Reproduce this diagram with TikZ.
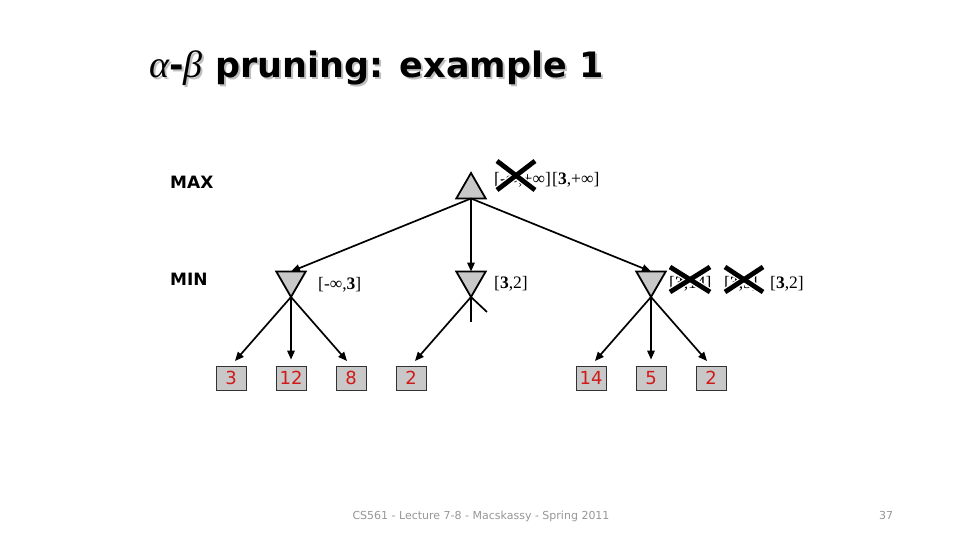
\documentclass[tikz,border=0pt]{standalone}
\usepackage{fontspec}
\setmainfont{DejaVu Sans}
\newfontfamily\serifl{Liberation Serif}
\usetikzlibrary{shapes.geometric,arrows.meta}
\definecolor{nodegray}{RGB}{200,200,200}
\definecolor{leafred}{RGB}{210,25,25}
\definecolor{footgray}{RGB}{150,150,150}
\newcommand{\titletext}{{\serifl\mdseries\itshape\fontsize{38}{40}\selectfont α}-{\serifl\mdseries\itshape\fontsize{38}{40}\selectfont β}\hspace{13pt}pruning: example 1}
\newcommand{\shadowedtitle}{\makebox[0pt][l]{\hspace{2pt}\raisebox{-2pt}{\textcolor{black!25}{\titletext}}}\titletext}
\begin{document}
\begin{tikzpicture}[x=1pt,y=-1pt,
  maxtri/.style={regular polygon, regular polygon sides=3, minimum size=34pt, inner sep=0pt, outer sep=0pt, fill=nodegray, draw=black, line width=1.8pt},
  mintri/.style={maxtri, shape border rotate=180},
  leaf/.style={rectangle, minimum width=30pt, minimum height=24pt, inner sep=0pt, fill=nodegray, draw=black!80, line width=0.9pt, text=leafred, font=\fontsize{18}{20}\selectfont},
  conn/.style={line width=1.7pt, -{Triangle[length=9pt,width=7.5pt]}},
  stub/.style={line width=1.7pt},
  lvl/.style={font=\bfseries\fontsize{17}{20}\selectfont, anchor=base west, inner sep=0pt},
  bnd/.style={font=\serifl\fontsize{17.5}{20}\selectfont, anchor=base west, inner sep=0pt},
  crossw/.style={line width=7.5pt, white},
  crossb/.style={line width=4.8pt, black},
  foot/.style={font=\fontsize{11}{13}\selectfont, text=footgray, anchor=base, inner sep=0pt}]
\useasboundingbox (0,0) rectangle (960,540);
% title
\node[anchor=base west, inner sep=0pt, font=\bfseries\fontsize{35}{40}\selectfont] (title) at (149,78) {\shadowedtitle};
% level labels
\node[lvl] (maxlbl) at (170,189) {MAX};
\node[lvl] (minlbl) at (170,285) {MIN};
% tree nodes
\node[maxtri] (root) at (471,190) {};
\node[mintri] (m1) at (291,280) {};
\node[mintri] (m2) at (471,280) {};
\node[mintri] (m3) at (651,280) {};
\node[leaf] (l1) at (231,378) {3};
\node[leaf] (l2) at (291,378) {12};
\node[leaf] (l3) at (351,378) {8};
\node[leaf] (l4) at (411,378) {2};
\node[leaf] (l5) at (591,378) {14};
\node[leaf] (l6) at (651,378) {5};
\node[leaf] (l7) at (711,378) {2};
\coordinate (s1) at (471,322);
\coordinate (s2) at (487,312);
% connectors
\draw[conn] (root.south) -- (m1.north);
\draw[conn] (root.south) -- (m2.north);
\draw[conn] (root.south) -- (m3.north);
\draw[conn, shorten >=6pt] (m1.south) -- (l1.north);
\draw[conn, shorten >=6pt] (m1.south) -- (l2.north);
\draw[conn, shorten >=6pt] (m1.south) -- (l3.north);
\draw[conn, shorten >=6pt] (m2.south) -- (l4.north);
\draw[stub] (m2.south) -- (s1);
\draw[stub] (m2.south) -- (s2);
\draw[conn, shorten >=6pt] (m3.south) -- (l5.north);
\draw[conn, shorten >=6pt] (m3.south) -- (l6.north);
\draw[conn, shorten >=6pt] (m3.south) -- (l7.north);
% bounds
\node[bnd] (b0) at (494,185) {[-∞,+∞]};
\node[bnd] (b0b) at (552,185) {[\textbf{3},+∞]};
\node[bnd] (b1) at (318,289) {[-∞,\textbf{3}]};
\node[bnd] (b2) at (494,288) {[\textbf{3},2]};
\node[bnd] (b3) at (669,288) {[\textbf{3},14]};
\node[bnd] (b4) at (724,288) {[\textbf{3},5]};
\node[bnd] (b5) at (770,288) {[\textbf{3},2]};
% crosses
\foreach \xa/\ya/\xb/\yb in {497/161/535/190, 670/267/710/292, 725/267/763/292}{
  \draw[crossw] (\xa,\ya) -- (\xb,\yb);
  \draw[crossw] (\xa,\yb) -- (\xb,\ya);
  \draw[crossb] (\xa,\ya) -- (\xb,\yb);
  \draw[crossb] (\xa,\yb) -- (\xb,\ya);
}
% footer
\node[foot] (footer) at (481,519) {CS561 - Lecture 7-8 - Macskassy - Spring 2011};
\node[foot] (page) at (886,519) {37};
\end{tikzpicture}
\end{document}
